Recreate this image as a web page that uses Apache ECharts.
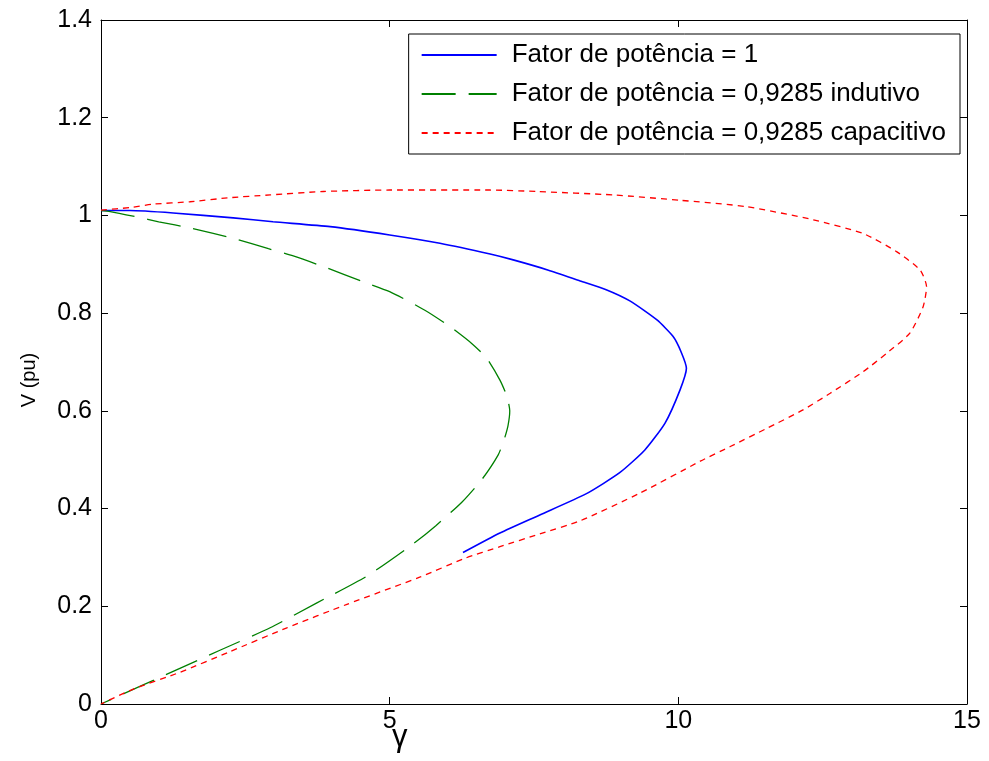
<!DOCTYPE html>
<html>
<head>
<meta charset="utf-8">
<script src="https://cdn.jsdelivr.net/npm/echarts@6/dist/echarts.min.js"></script>
<style>
  html, body { margin: 0; padding: 0; background: #fff; }
  #chart { width: 989px; height: 761px; }
</style>
</head>
<body>
<div id="chart"></div>
<script>
// values: [gamma, V (pu)]
var fpUnit = [
    [0, 1.01], [0.5, 1.01], [1.25, 1.005], [2.29, 0.995], [2.98, 0.987], [3.97, 0.977],
    [5.0, 0.96], [5.87, 0.943], [6.74, 0.921], [7.14, 0.909], [7.75, 0.888], [8.3, 0.866],
    [8.75, 0.848], [9.16, 0.825], [9.63, 0.786], [9.91, 0.752], [10.05, 0.72], [10.14, 0.687],
    [10.03, 0.643], [9.77, 0.575], [9.42, 0.52], [8.99, 0.474], [8.4, 0.43], [7.6, 0.387],
    [6.91, 0.35], [6.27, 0.31]
];
var fpIndutivo = [
    [0, 1.01], [0.16, 1.008], [0.62, 0.997], [1.0, 0.987], [1.56, 0.974], [2.29, 0.953],
    [2.9, 0.932], [3.33, 0.917], [3.93, 0.892], [4.5, 0.866], [5.0, 0.844], [5.61, 0.806],
    [6.05, 0.772], [6.44, 0.736], [6.68, 0.708], [6.91, 0.663], [7.03, 0.63], [7.08, 0.6],
    [7.05, 0.57], [6.98, 0.54], [6.88, 0.51], [6.6, 0.46], [6.25, 0.413], [5.8, 0.365],
    [5.4, 0.327], [4.61, 0.262], [3.74, 0.207], [2.93, 0.156], [2.06, 0.11], [0.73, 0.039],
    [0, 0]
];
var fpCapacitivo = [
    [0, 1.011], [0.5, 1.016], [0.9, 1.023], [1.54, 1.028], [2.2, 1.036], [2.93, 1.042],
    [3.85, 1.049], [5.0, 1.052], [6.74, 1.052], [7.55, 1.049], [8.87, 1.042], [10.03, 1.031],
    [11.18, 1.018], [12.34, 0.991], [13.2, 0.963], [13.78, 0.926], [14.19, 0.888],
    [14.3, 0.854], [14.24, 0.813], [14.01, 0.759], [13.61, 0.718], [13.2, 0.68],
    [12.63, 0.636], [12.16, 0.602], [11.53, 0.564], [10.9, 0.527], [10.38, 0.497],
    [9.34, 0.432], [8.3, 0.375], [7.6, 0.348], [6.91, 0.322], [6.3, 0.298], [5.53, 0.26],
    [4.26, 0.204], [3.22, 0.156], [2.23, 0.107], [1.37, 0.065], [0.55, 0.03], [0, 0]
];
var seriesNames = [
    'Fator de potência = 1',
    'Fator de potência = 0,9285 indutivo',
    'Fator de potência = 0,9285 capacitivo'
];

var chart = echarts.init(document.getElementById('chart'), null, {renderer: 'canvas'});
var font = 'Liberation Sans, Arial, sans-serif';

var tickStyle = {show: true, inside: true, length: 7, lineStyle: {color: '#000', width: 1}};
var lineAxis = {show: true, onZero: false, lineStyle: {color: '#000', width: 1}};

chart.setOption({
    animation: false,
    backgroundColor: '#fff',
    grid: {left: 101, right: 22, top: 20, bottom: 57},
    legend: {
        orient: 'vertical',
        right: 29,
        top: 34,
        data: seriesNames,
        itemWidth: 75,
        itemHeight: 14,
        itemGap: 13,
        padding: [8, 14, 8, 12],
        borderColor: '#000',
        borderWidth: 1,
        backgroundColor: '#fff',
        itemStyle: {opacity: 0},
        textStyle: {fontFamily: font, fontSize: 26, color: '#000', padding: [0, 0, 0, 10]}
    },
    xAxis: [
        {
            type: 'value', min: 0, max: 15, interval: 5, position: 'bottom',
            axisLine: lineAxis, axisTick: tickStyle, splitLine: {show: false},
            axisLabel: {fontFamily: font, fontSize: 25, color: '#000', margin: 5}
        },
        {
            type: 'value', min: 0, max: 15, interval: 5, position: 'top',
            axisLine: lineAxis, axisTick: tickStyle, splitLine: {show: false},
            axisLabel: {show: false}
        }
    ],
    yAxis: [
        {
            type: 'value', min: 0, max: 1.4, interval: 0.2, position: 'left',
            axisLine: lineAxis, axisTick: tickStyle, splitLine: {show: false},
            axisLabel: {
                fontFamily: font, fontSize: 25, color: '#000', margin: 9,
                formatter: function (v) { return String(Math.round(v * 10) / 10); }
            }
        },
        {
            type: 'value', min: 0, max: 1.4, interval: 0.2, position: 'right',
            axisLine: lineAxis, axisTick: tickStyle, splitLine: {show: false},
            axisLabel: {show: false}
        }
    ],
    graphic: [
        {
            type: 'text', left: 392, top: 722,
            style: {text: 'γ', font: '31px ' + font, fill: '#000'}
        },
        {
            type: 'text', x: 29, y: 380, rotation: Math.PI / 2,
            style: {text: 'V (pu)', font: '20px ' + font, fill: '#000', align: 'center', verticalAlign: 'middle'}
        }
    ],
    series: [
        {
            name: seriesNames[0], type: 'line', data: fpUnit, showSymbol: false, symbol: 'none',
            smooth: 0.2, color: '#0000ff',
            lineStyle: {color: '#0000ff', width: 1.6, type: 'solid'}
        },
        {
            name: seriesNames[1], type: 'line', data: fpIndutivo, showSymbol: false, symbol: 'none',
            smooth: 0.2, color: '#008000',
            lineStyle: {color: '#008000', width: 1.3, type: [34, 13]}
        },
        {
            name: seriesNames[2], type: 'line', data: fpCapacitivo, showSymbol: false, symbol: 'none',
            smooth: 0.2, color: '#ff0000',
            lineStyle: {color: '#ff0000', width: 1.3, type: [6, 5]}
        }
    ]
});
</script>
</body>
</html>
